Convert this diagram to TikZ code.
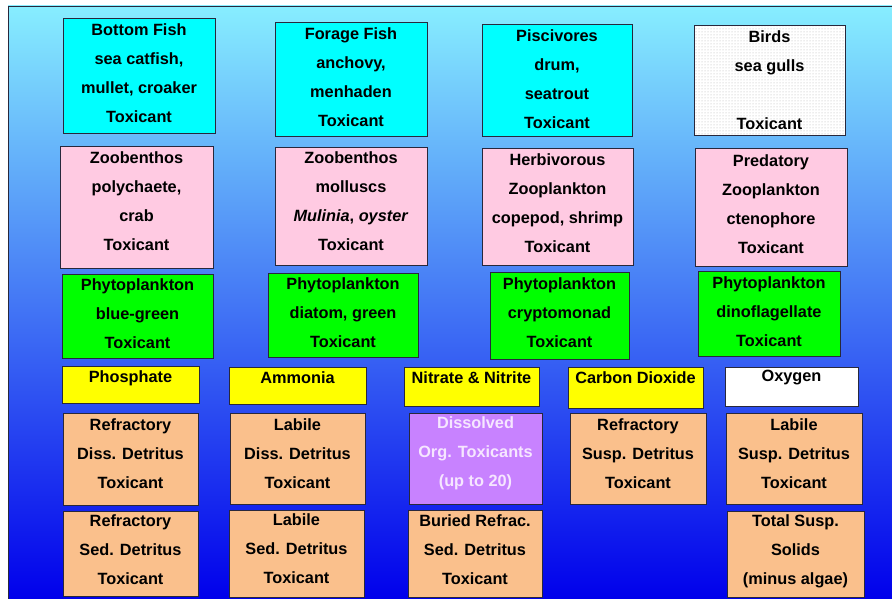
\documentclass[tikz,border=0pt]{standalone}
\usepackage{fontspec}
\setmainfont{Liberation Sans}
\usetikzlibrary{fit,patterns}
\definecolor{bgtop}{RGB}{135,238,255}
\definecolor{bgbot}{RGB}{0,0,235}
\definecolor{fishc}{RGB}{0,255,255}
\definecolor{zooc}{RGB}{255,202,226}
\definecolor{phyc}{RGB}{0,255,0}
\definecolor{nutc}{RGB}{255,255,0}
\definecolor{detc}{RGB}{250,192,140}
\definecolor{dissc}{RGB}{200,130,255}
\definecolor{disstxt}{RGB}{246,230,255}
\definecolor{edgec}{RGB}{40,40,60}
\newcommand\bx[8]{%
  \node[box,#6,fit={(#2,#3)(#4,#5)}] (#1) {};
  \node[txt] (#1t) at ({(#2+#4)/2},#7) {#8};}
\begin{document}
\begin{tikzpicture}[x=1pt,y=-1pt,
  box/.style={draw=edgec,line width=0.9pt,inner sep=0pt},
  txt/.style={align=center,inner sep=0pt,text=black,
    font=\fontsize{16.3}{29}\selectfont\bfseries},
  fish/.style={fill=fishc}, zoo/.style={fill=zooc}, phy/.style={fill=phyc},
  nut/.style={fill=nutc}, det/.style={fill=detc}, diss/.style={fill=dissc},
  bird/.style={preaction={fill=white},pattern=dots,pattern color=black!30},
  oxy/.style={fill=white}]
\useasboundingbox (0,0) rectangle (892,599);
\fill[white] (0,0) rectangle (892,599);
\shade[top color=bgtop,bottom color=bgbot] (8,6) rectangle (892,599);
\draw[edgec,line width=0.9pt] (8,599) -- (8,6) -- (892,6);
% Row 1
\bx{bfish}{63}{18}{215}{133}{fish}{73}{Bottom Fish\\sea catfish,\\mullet, croaker\\Toxicant}
\bx{ffish}{275}{22}{427}{136}{fish}{77}{Forage Fish\\anchovy,\\menhaden\\Toxicant}
\bx{pisc}{482}{24}{632}{136}{fish}{79}{Piscivores\\drum,\\seatrout\\Toxicant}
\bx{birds}{694}{25}{845}{135}{bird}{80.5}{Birds\\sea gulls\\[29pt]Toxicant}
% Row 2
\bx{zbpoly}{60}{146}{213}{268}{zoo}{201}{Zoobenthos\\polychaete,\\crab\\Toxicant}
\bx{zbmoll}{275}{147}{427}{265}{zoo}{201}{Zoobenthos\\molluscs\\\textit{Mulinia}, \textit{oyster}\\Toxicant}
\bx{hzoo}{482}{148}{633}{265}{zoo}{203.5}{Herbivorous\\Zooplankton\\copepod, shrimp\\Toxicant}
\bx{pzoo}{695}{148}{847}{266}{zoo}{204}{Predatory\\Zooplankton\\ctenophore\\Toxicant}
% Row 3
\bx{phbg}{62}{274}{213}{358}{phy}{314}{Phytoplankton\\blue-green\\Toxicant}
\bx{phdg}{268}{273}{418}{357}{phy}{313}{Phytoplankton\\diatom, green\\Toxicant}
\bx{phcr}{490}{272}{629}{359}{phy}{313}{Phytoplankton\\cryptomonad\\Toxicant}
\bx{phdf}{698}{271}{840}{356}{phy}{311.5}{Phytoplankton\\dinoflagellate\\Toxicant}
% Row 4
\bx{phos}{62}{366}{199}{403}{nut}{378}{Phosphate}
\bx{ammo}{229}{367}{366}{404}{nut}{378}{Ammonia}
\bx{nitr}{404}{367}{539}{406}{nut}{378}{Nitrate \& Nitrite}
\bx{codi}{568}{367}{703}{408}{nut}{378}{Carbon Dioxide}
\bx{oxyg}{725}{367}{858}{406}{oxy}{378}{Oxygen}
% Row 5
\bx{rdd}{63}{413}{198}{505}{det}{453.5}{Refractory\\Diss. Detritus\\Toxicant}
\bx{ldd}{230}{413}{365}{504}{det}{454}{Labile\\Diss. Detritus\\Toxicant}
\bx{dot}{409}{413}{542}{504}{diss}{453.5}{\textcolor{disstxt}{Dissolved}\\\textcolor{disstxt}{Org. Toxicants}\\\textcolor{disstxt}{(up to 20)}}
\bx{rsd}{570}{413}{706}{504}{det}{453.5}{Refractory\\Susp. Detritus\\Toxicant}
\bx{lsd}{726}{413}{862}{504}{det}{453.5}{Labile\\Susp. Detritus\\Toxicant}
% Row 6
\bx{rsed}{63}{511}{198}{596}{det}{549.5}{Refractory\\Sed. Detritus\\Toxicant}
\bx{lsed}{229}{510}{364}{597}{det}{549}{Labile\\Sed. Detritus\\Toxicant}
\bx{bsed}{408}{510}{542}{597}{det}{550}{Buried Refrac.\\Sed. Detritus\\Toxicant}
\bx{tss}{727}{511}{864}{597}{det}{551}{Total Susp.\\Solids\\(minus algae)}
\end{tikzpicture}
\end{document}
